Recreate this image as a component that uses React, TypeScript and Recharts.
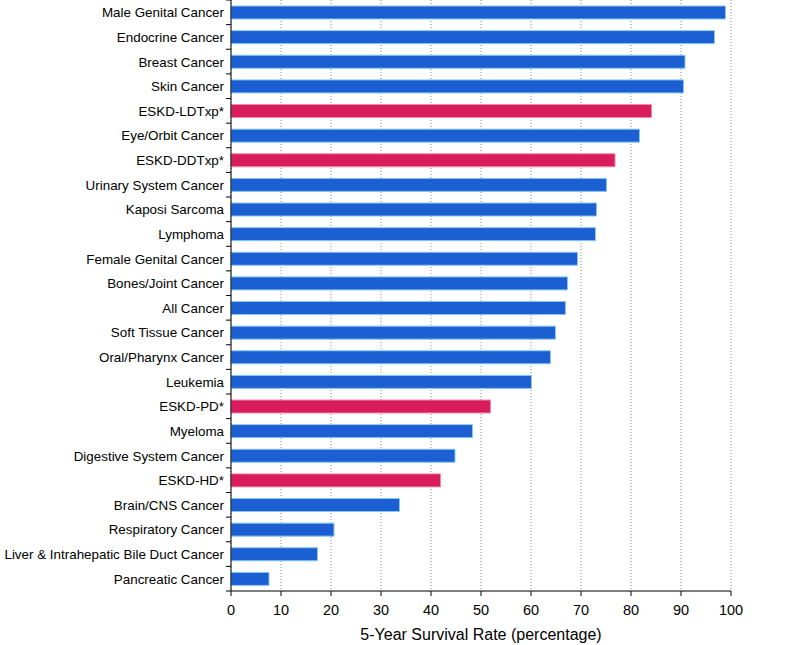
import React from 'react';
import { BarChart, Bar, XAxis, YAxis, CartesianGrid, Cell } from 'recharts';

const categories = [
  'Male Genital Cancer',
  'Endocrine Cancer',
  'Breast Cancer',
  'Skin Cancer',
  'ESKD-LDTxp*',
  'Eye/Orbit Cancer',
  'ESKD-DDTxp*',
  'Urinary System Cancer',
  'Kaposi Sarcoma',
  'Lymphoma',
  'Female Genital Cancer',
  'Bones/Joint Cancer',
  'All Cancer',
  'Soft Tissue Cancer',
  'Oral/Pharynx Cancer',
  'Leukemia',
  'ESKD-PD*',
  'Myeloma',
  'Digestive System Cancer',
  'ESKD-HD*',
  'Brain/CNS Cancer',
  'Respiratory Cancer',
  'Liver & Intrahepatic Bile Duct Cancer',
  'Pancreatic Cancer',
];

const survival = [
  98.9, 96.7, 90.8, 90.5, 84.1, 81.7, 76.8, 75.1, 73.1, 72.9, 69.3, 67.3,
  66.9, 64.9, 63.9, 60.1, 51.9, 48.3, 44.8, 41.9, 33.7, 20.6, 17.3, 7.6,
];

const xTicks = [0, 10, 20, 30, 40, 50, 60, 70, 80, 90, 100];

const FONT = '"Liberation Sans", Arial, Helvetica, sans-serif';
const BLUE = '#1b5fd2';
const BLUE_EDGE = '#86c8f0';
const PINK = '#d81c5c';
const PINK_EDGE = '#f08aaa';

const data = categories.map((name, i) => ({ name, value: survival[i] }));

const YTick = ({ x, y, payload, index }: any) => {
  const half = payload?.offset ?? 591 / categories.length / 2;
  return (
    <g>
      {index === 0 && <line x1={x - 5} x2={x} y1={y - half} y2={y - half} stroke="#000" />}
      <line x1={x - 5} x2={x} y1={y + half} y2={y + half} stroke="#000" />
      <text x={x - 7} y={y} dy={5} textAnchor="end" fontSize={13.4} fill="#000" fontFamily={FONT}>
        {payload.value}
      </text>
    </g>
  );
};

export default function App() {
  return (
    <div style={{ position: 'absolute', left: 0, top: 0, background: '#fff' }}>
      <BarChart
        width={800}
        height={645}
        data={data}
        layout="vertical"
        margin={{ top: 0, right: 69, left: 0, bottom: 0 }}
        barSize={13}
      >
        <CartesianGrid horizontal={false} strokeDasharray="1 2" stroke="#8a8a8a" />
        <XAxis
          type="number"
          domain={[0, 100]}
          ticks={xTicks}
          interval={0}
          height={54}
          tickSize={5}
          tickMargin={9}
          axisLine={{ stroke: '#000' }}
          tickLine={{ stroke: '#000' }}
          tick={{ fill: '#000', fontSize: 14.5, fontFamily: FONT }}
          label={{
            value: '5-Year Survival Rate (percentage)',
            position: 'insideBottom',
            offset: 5,
            fill: '#000',
            fontSize: 16,
            fontFamily: FONT,
          }}
        />
        <YAxis
          type="category"
          dataKey="name"
          width={231}
          interval={0}
          tickSize={0}
          tickMargin={0}
          tickLine={false}
          axisLine={{ stroke: '#000' }}
          tick={<YTick />}
        />
        <Bar dataKey="value" isAnimationActive={false} strokeWidth={1}>
          {data.map((d, i) => {
            const eskd = d.name.startsWith('ESKD');
            return (
              <Cell
                key={`c-${i}`}
                fill={eskd ? PINK : BLUE}
                stroke={eskd ? PINK_EDGE : BLUE_EDGE}
              />
            );
          })}
        </Bar>
      </BarChart>
    </div>
  );
}
